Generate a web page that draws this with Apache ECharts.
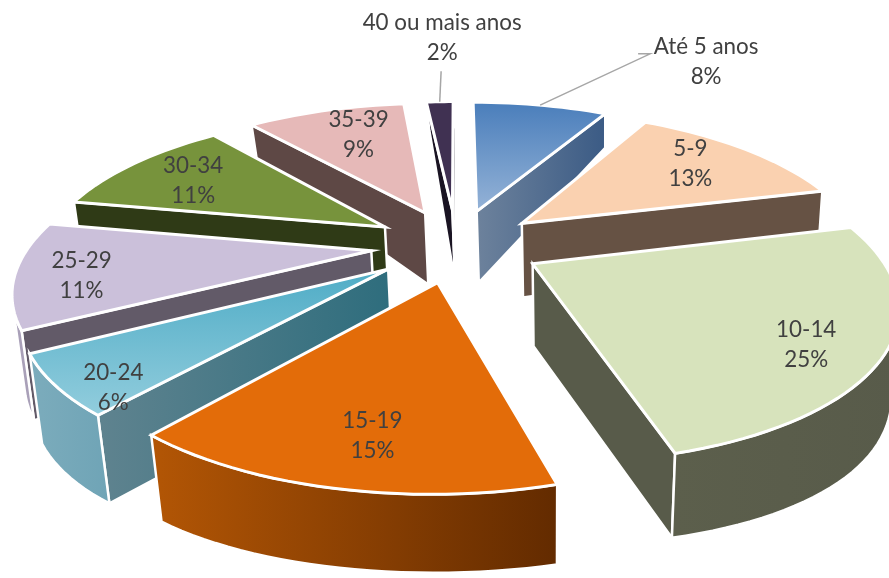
<!DOCTYPE html>
<html><head><meta charset="utf-8">
<style>html,body{margin:0;padding:0;background:#fff}#c{width:889px;height:578px}</style>
<script src="https://cdn.jsdelivr.net/npm/echarts@6/dist/echarts.min.js"></script>
</head><body><div id="c"></div>
<script>
const categories = ['Até 5 anos','5-9','10-14','15-19','20-24','25-29','30-34','35-39','40 ou mais anos'];
const values = [8,13,24.7,15.3,6,11,11,9.4,1.6];
const topColors = [['#4A7EBB','#95B3D7'],['#FAD1B0','#FAD1B0'],['#D7E3BC','#D7E3BC'],['#E36C09','#E36C09'],['#4FACC6','#92CDDD'],['#CBC0DA','#CBC0DA'],['#77933C','#77933C'],['#E6B9B8','#E6B9B8'],['#403152','#403152']];
const faceColors = [['#6D829C','#3B5B85'],['#665244','#665244'],['#585B4A','#585B4A'],['#B35605','#632B00'],['#5F838F','#2E6D7D'],['#625A68','#625A68'],['#2F3A16','#2F3A16'],['#5E4845','#5E4845'],['#1A1423','#1A1423']];
const arcColors = [['#6D829C','#3B5B85'],['#665244','#665244'],['#5C5F4C','#585B4A'],['#B35605','#632B00'],['#7CACBC','#6FA4B6'],['#A9A0B8','#A9A0B8'],['#2F3A16','#2F3A16'],['#5E4845','#5E4845'],['#1A1423','#1A1423']];
// label nudges from the computed anchor, in px
const labelNudge = [[178,-63.5],[-10,0],[5,15],[11,2],[-25,31],[-14,6],[8,4],[14,5],[0,-85]];
// leader line bends relative to the label centre
const leaders = {0:[[-56,-8],[-68,-8]],8:[[-1,34]]};

const explode = 0.25, labelFrac = 0.78;
const total = values.reduce((a,b)=>a+b,0);
const DEG = Math.PI/180;
function angles(i){
  let s = 0; for(let k=0;k<i;k++) s += values[k];
  return [s/total*360, (s+values[i])/total*360];
}
function dir(a){ return [Math.sin(a*DEG), -Math.cos(a*DEG)]; }
function topP(X,Y){ return [456.5+342*X/(1-0.224*Y), 245+146*Y/(1-0.218*Y)]; }
function botP(X,Y){ return [459+335*X/(1-0.22*Y), 324+175*Y/(1-0.1*Y)]; }
function grad(x0,x1,y0,y1,c){ return new echarts.graphic.LinearGradient(x0,y0,x1,y1,[{offset:0,color:c[0]},{offset:1,color:c[1]}],true); }
function xr(pts){ const xs=pts.map(p=>p[0]); return [Math.min(...xs),Math.max(...xs)]; }
function yr(pts){ const ys=pts.map(p=>p[1]); return [Math.min(...ys),Math.max(...ys)]; }
function area(pts){ let s=0; for(let i=0;i<pts.length;i++){const a=pts[i],b=pts[(i+1)%pts.length]; s+=a[0]*b[1]-b[0]*a[1];} return s; }
const rank = categories.map((_,i)=>{const [a,b]=angles(i);return dir((a+b)/2)[1];});
const order = rank.map((v,i)=>[v,i]).sort((x,y)=>x[0]-y[0]).map(x=>x[1]);

function renderItem(params, api){
  const i = params.dataIndex;
  const [a0,a1] = angles(i), mid=(a0+a1)/2, d=dir(mid);
  const ox = d[0]*explode, oy = d[1]*explode;
  const z = order.indexOf(i)*10+1;
  const arc=[]; const N=Math.max(6,Math.ceil((a1-a0)/2));
  for(let k=0;k<=N;k++){ const e=dir(a0+(a1-a0)*k/N); arc.push([ox+e[0],oy+e[1]]); }
  const topArc=arc.map(p=>topP(p[0],p[1])), botArc=arc.map(p=>botP(p[0],p[1]));
  const at=topP(ox,oy), ab=botP(ox,oy);
  const children=[];
  const face=(t,b,sign)=>{const pts=[at,t,b,ab]; if(area(pts)*sign<=0) return; const r=xr(pts);
    children.push({type:'polygon',z2:z,shape:{points:pts},style:{fill:grad(r[0],r[1],0,0,faceColors[i]),stroke:'#fff',lineWidth:2.5,lineJoin:'miter'}});};
  face(topArc[0],botArc[0],-1); face(topArc[N],botArc[N],1);
  let first=-1,last=-1;
  for(let k=0;k<N;k++){ if(area([topArc[k],topArc[k+1],botArc[k+1],botArc[k]])<0){ if(first<0) first=k; last=k+1; } }
  if(first>=0){
    const arcPts=topArc.slice(first,last+1).concat(botArc.slice(first,last+1).reverse()); const ar=xr(arcPts);
    children.push({type:'polygon',z2:z+1,shape:{points:arcPts},style:{fill:grad(ar[0],ar[1],0,0,arcColors[i]),stroke:'#fff',lineWidth:2.5}});
  }
  const topPts=[at].concat(topArc); const yy=yr(topPts);
  children.push({type:'polygon',z2:z+2,shape:{points:topPts},style:{fill:grad(0,0,yy[0],yy[1],topColors[i]),stroke:'#fff',lineWidth:3,lineJoin:'miter'}});
  const l=topP(ox+d[0]*labelFrac,oy+d[1]*labelFrac), n=labelNudge[i];
  const lx=l[0]+n[0], ly=l[1]+n[1];
  children.push({type:'text',z2:1000,style:{text:categories[i]+'\n'+api.value(0).toFixed(0)+'%',x:lx,y:ly,align:'center',verticalAlign:'middle',font:'22.4px Lato',lineHeight:30,fill:'#404040'}});
  if(leaders[i]){
    const start=topP(ox+d[0],oy+d[1]);
    children.push({type:'polyline',z2:999,shape:{points:[start].concat(leaders[i].map(p=>[lx+p[0],ly+p[1]]))},style:{stroke:'#A6A6A6',lineWidth:1.5,fill:null}});
  }
  return {type:'group',children};
}
const chart = echarts.init(document.getElementById('c'),null,{renderer:'canvas'});
chart.setOption({
  animation:false,
  backgroundColor:'#fff',
  series:[{type:'custom',coordinateSystem:'none',renderItem,clip:false,data:categories.map((c,i)=>({name:c,value:values[i]}))}]
});
</script></body></html>
